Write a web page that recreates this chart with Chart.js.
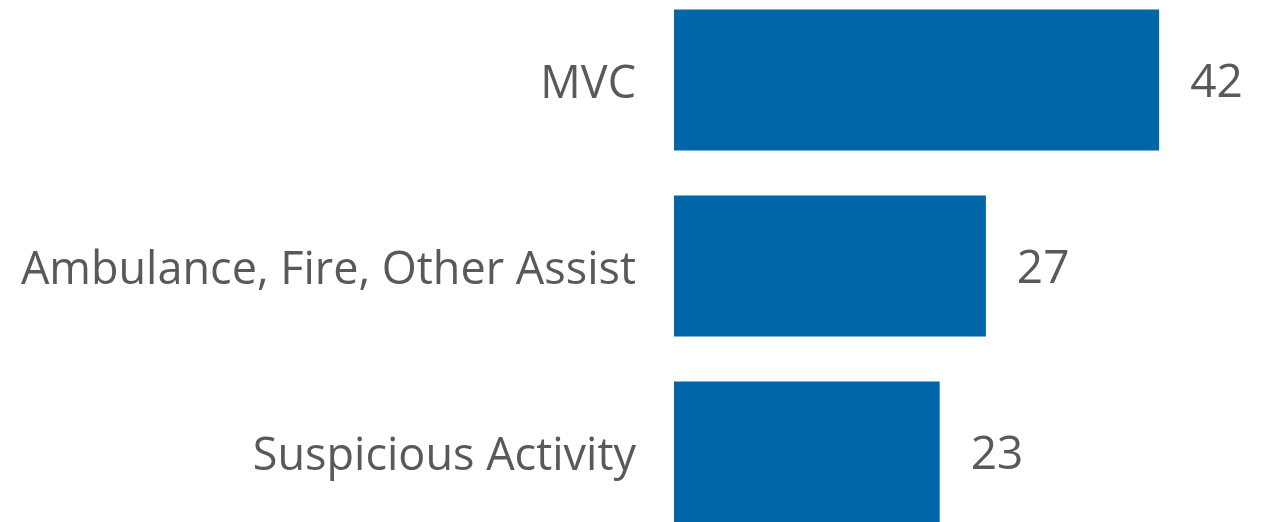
<!DOCTYPE html>
<html>
<head>
<meta charset="utf-8">
<script src="https://cdn.jsdelivr.net/npm/chart.js@4/dist/chart.umd.min.js"></script>
<style>
  html, body { margin: 0; padding: 0; background: #fff; overflow: hidden; }
  #wrap { position: relative; width: 1281px; height: 522px; overflow: hidden; }
  #box { position: absolute; left: 0; top: -13px; width: 1281px; height: 558px; }
</style>
</head>
<body>
<div id="wrap"><div id="box"><canvas id="incidentsChart"></canvas></div></div>
<script>
const categories = ['MVC', 'Ambulance, Fire, Other Assist', 'Suspicious Activity'];
const counts = [42, 27, 23];

const textColor = '#595959';
const fontFamily = '"Open Sans", "Noto Sans", sans-serif';

// draw the value to the right of each bar
const valueLabels = {
    id: 'valueLabels',
    afterDatasetsDraw(chart) {
        const c = chart.ctx;
        const meta = chart.getDatasetMeta(0);
        c.save();
        c.fillStyle = textColor;
        c.font = '46px ' + fontFamily;
        c.textAlign = 'left';
        c.textBaseline = 'middle';
        meta.data.forEach((bar, i) => {
            c.fillText(String(counts[i]), bar.x + 31, bar.y + 4);
        });
        c.restore();
    }
};

const ctx = document.getElementById('incidentsChart').getContext('2d');

const incidentsChart = new Chart(ctx, {
    type: 'bar',
    data: {
        labels: categories,
        datasets: [{
            data: counts,
            backgroundColor: '#0066A8',
            barPercentage: 0.758,
            categoryPercentage: 1
        }]
    },
    options: {
        indexAxis: 'y',
        responsive: true,
        maintainAspectRatio: false,
        animation: false,
        layout: { padding: 0 },
        plugins: {
            legend: { display: false },
            tooltip: { enabled: false }
        },
        scales: {
            x: {
                display: false,
                min: 0,
                max: 52.55
            },
            y: {
                afterFit(scale) {
                    scale.width = 674;
                    scale.paddingTop = 0;
                    scale.paddingBottom = 0;
                },
                grid: { display: false, drawTicks: false },
                border: { display: false },
                ticks: {
                    color: textColor,
                    padding: 38,
                    labelOffset: 5,
                    font: { family: fontFamily, size: 45 }
                }
            }
        }
    },
    plugins: [valueLabels]
});
</script>
</body>
</html>
